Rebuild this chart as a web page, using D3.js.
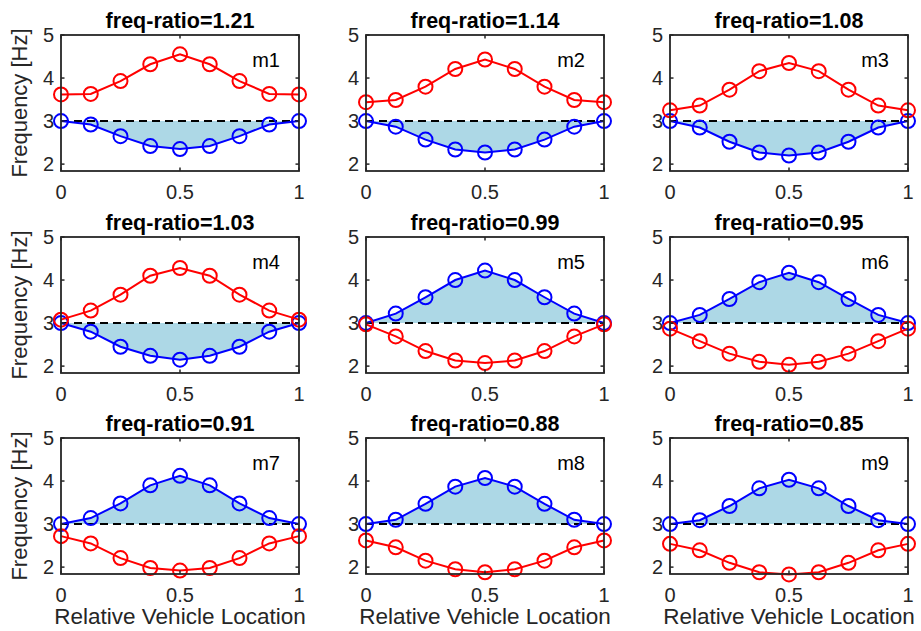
<!DOCTYPE html>
<html>
<head>
<meta charset="utf-8">
<script src="https://cdn.jsdelivr.net/npm/d3@7"></script>
<style>
  html, body { margin: 0; padding: 0; background: #fff; }
  svg { display: block; }
  text { font-family: "Liberation Sans", Arial, Helvetica, sans-serif; }
</style>
</head>
<body>
<svg id="chart" width="921" height="631"></svg>
<script>
// Relative vehicle location sample points
const locations = [0, 0.125, 0.25, 0.375, 0.5, 0.625, 0.75, 0.875, 1];

// Frequency ratio and mode label of each panel
const freqRatios = ["1.21", "1.14", "1.08", "1.03", "0.99", "0.95", "0.91", "0.88", "0.85"];
const modeLabels = ["m1", "m2", "m3", "m4", "m5", "m6", "m7", "m8", "m9"];

// Red series (Hz) per panel
const redSeries = [
  [3.62, 3.63, 3.93, 4.32, 4.55, 4.32, 3.93, 3.63, 3.62],
  [3.44, 3.49, 3.80, 4.21, 4.43, 4.21, 3.80, 3.49, 3.44],
  [3.25, 3.36, 3.73, 4.16, 4.35, 4.16, 3.73, 3.36, 3.25],
  [3.08, 3.29, 3.66, 4.10, 4.28, 4.10, 3.66, 3.29, 3.08],
  [2.97, 2.69, 2.35, 2.13, 2.07, 2.13, 2.35, 2.69, 2.97],
  [2.87, 2.58, 2.29, 2.10, 2.03, 2.10, 2.29, 2.58, 2.87],
  [2.72, 2.55, 2.21, 1.98, 1.92, 1.98, 2.21, 2.55, 2.72],
  [2.62, 2.46, 2.15, 1.95, 1.88, 1.95, 2.15, 2.46, 2.62],
  [2.54, 2.39, 2.10, 1.88, 1.83, 1.88, 2.10, 2.39, 2.54]
];

// Blue series (Hz) per panel
const blueSeries = [
  [3.00, 2.92, 2.65, 2.42, 2.35, 2.42, 2.65, 2.92, 3.00],
  [3.00, 2.87, 2.57, 2.34, 2.27, 2.34, 2.57, 2.87, 3.00],
  [3.00, 2.85, 2.52, 2.27, 2.20, 2.27, 2.52, 2.85, 3.00],
  [3.00, 2.80, 2.45, 2.24, 2.15, 2.24, 2.45, 2.80, 3.00],
  [3.00, 3.22, 3.60, 4.00, 4.22, 4.00, 3.60, 3.22, 3.00],
  [3.00, 3.19, 3.56, 3.95, 4.17, 3.95, 3.56, 3.19, 3.00],
  [3.00, 3.14, 3.48, 3.90, 4.12, 3.90, 3.48, 3.14, 3.00],
  [3.00, 3.10, 3.47, 3.87, 4.07, 3.87, 3.47, 3.10, 3.00],
  [3.00, 3.09, 3.42, 3.83, 4.03, 3.83, 3.42, 3.09, 3.00]
];

// Reference frequency (dashed line)
const referenceFreq = 3;

// Axis ticks
const xTicks = [0, 0.5, 1];
const yTicks = [2, 3, 4, 5];
const xTickLabels = ["0", "0.5", "1"];

const axisColor = "#262626";
const colLeft = [61, 366, 670];
const rowTop = [35, 237, 438];
const panelW = 238;
const panelH = 136;
const tickLen = 3.5;

const svg = d3.select("#chart");

freqRatios.forEach((ratio, i) => {
  const col = i % 3, row = Math.floor(i / 3);
  const g = svg.append("g")
    .attr("transform", `translate(${colLeft[col]},${rowTop[row]})`);

  const x = d3.scaleLinear().domain([0, 1]).range([0, panelW]);
  const y = d3.scaleLinear().domain([1.84, 5]).range([panelH, 0]);

  const blue = locations.map((loc, k) => ({ x: loc, y: blueSeries[i][k] }));
  const red = locations.map((loc, k) => ({ x: loc, y: redSeries[i][k] }));

  // Shaded region between blue curve and reference line
  g.append("path")
    .datum(blue)
    .attr("fill", "#ADD8E6")
    .attr("d", d3.area()
      .x(d => x(d.x))
      .y0(y(referenceFreq))
      .y1(d => y(d.y)));

  // Dashed reference line
  g.append("line")
    .attr("x1", x(0)).attr("x2", x(1))
    .attr("y1", y(referenceFreq)).attr("y2", y(referenceFreq))
    .attr("stroke", "#000").attr("stroke-width", 2)
    .attr("stroke-dasharray", "8,5");

  const line = d3.line().x(d => x(d.x)).y(d => y(d.y));

  const drawSeries = (data, color) => {
    g.append("path").datum(data)
      .attr("fill", "none").attr("stroke", color).attr("stroke-width", 2)
      .attr("d", line);
    g.selectAll(null).data(data).enter().append("circle")
      .attr("cx", d => x(d.x)).attr("cy", d => y(d.y))
      .attr("r", 7)
      .attr("fill", "none").attr("stroke", color).attr("stroke-width", 2);
  };
  drawSeries(blue, "#0000FF");
  drawSeries(red, "#FF0000");

  // Box frame
  g.append("rect")
    .attr("x", 0).attr("y", 0).attr("width", panelW).attr("height", panelH)
    .attr("fill", "none").attr("stroke", axisColor).attr("stroke-width", 1.8);

  // Inward ticks on all four sides
  xTicks.forEach(t => {
    g.append("line").attr("x1", x(t)).attr("x2", x(t))
      .attr("y1", panelH).attr("y2", panelH - tickLen)
      .attr("stroke", axisColor).attr("stroke-width", 1.5);
    g.append("line").attr("x1", x(t)).attr("x2", x(t))
      .attr("y1", 0).attr("y2", tickLen)
      .attr("stroke", axisColor).attr("stroke-width", 1.5);
  });
  yTicks.forEach(t => {
    g.append("line").attr("x1", 0).attr("x2", tickLen)
      .attr("y1", y(t)).attr("y2", y(t))
      .attr("stroke", axisColor).attr("stroke-width", 1.5);
    g.append("line").attr("x1", panelW).attr("x2", panelW - tickLen)
      .attr("y1", y(t)).attr("y2", y(t))
      .attr("stroke", axisColor).attr("stroke-width", 1.5);
  });

  // Tick labels
  g.selectAll(null).data(xTicks).enter().append("text")
    .attr("x", d => x(d)).attr("y", panelH + 28)
    .attr("text-anchor", "middle")
    .attr("font-size", 20).attr("fill", axisColor)
    .text((d, k) => xTickLabels[k]);
  g.selectAll(null).data(yTicks).enter().append("text")
    .attr("x", -7).attr("y", d => y(d) + 7)
    .attr("text-anchor", "end")
    .attr("font-size", 20).attr("fill", axisColor)
    .text(d => d);

  // Title
  g.append("text")
    .attr("x", panelW / 2).attr("y", -7)
    .attr("text-anchor", "middle")
    .attr("font-size", 21.5).attr("font-weight", "bold").attr("fill", "#000")
    .text(`freq-ratio=${ratio}`);

  // Mode label
  g.append("text")
    .attr("x", panelW - 19).attr("y", 32)
    .attr("text-anchor", "end")
    .attr("font-size", 20).attr("fill", "#000")
    .text(modeLabels[i]);

  // Axis titles
  if (col === 0) {
    g.append("text")
      .attr("transform", `translate(-34,${panelH / 2}) rotate(-90)`)
      .attr("text-anchor", "middle")
      .attr("font-size", 22).attr("fill", axisColor)
      .text("Frequency [Hz]");
  }
  if (row === 2) {
    g.append("text")
      .attr("x", panelW / 2).attr("y", panelH + 50)
      .attr("text-anchor", "middle")
      .attr("font-size", 22.5).attr("fill", axisColor)
      .text("Relative Vehicle Location");
  }
});
</script>
</body>
</html>
